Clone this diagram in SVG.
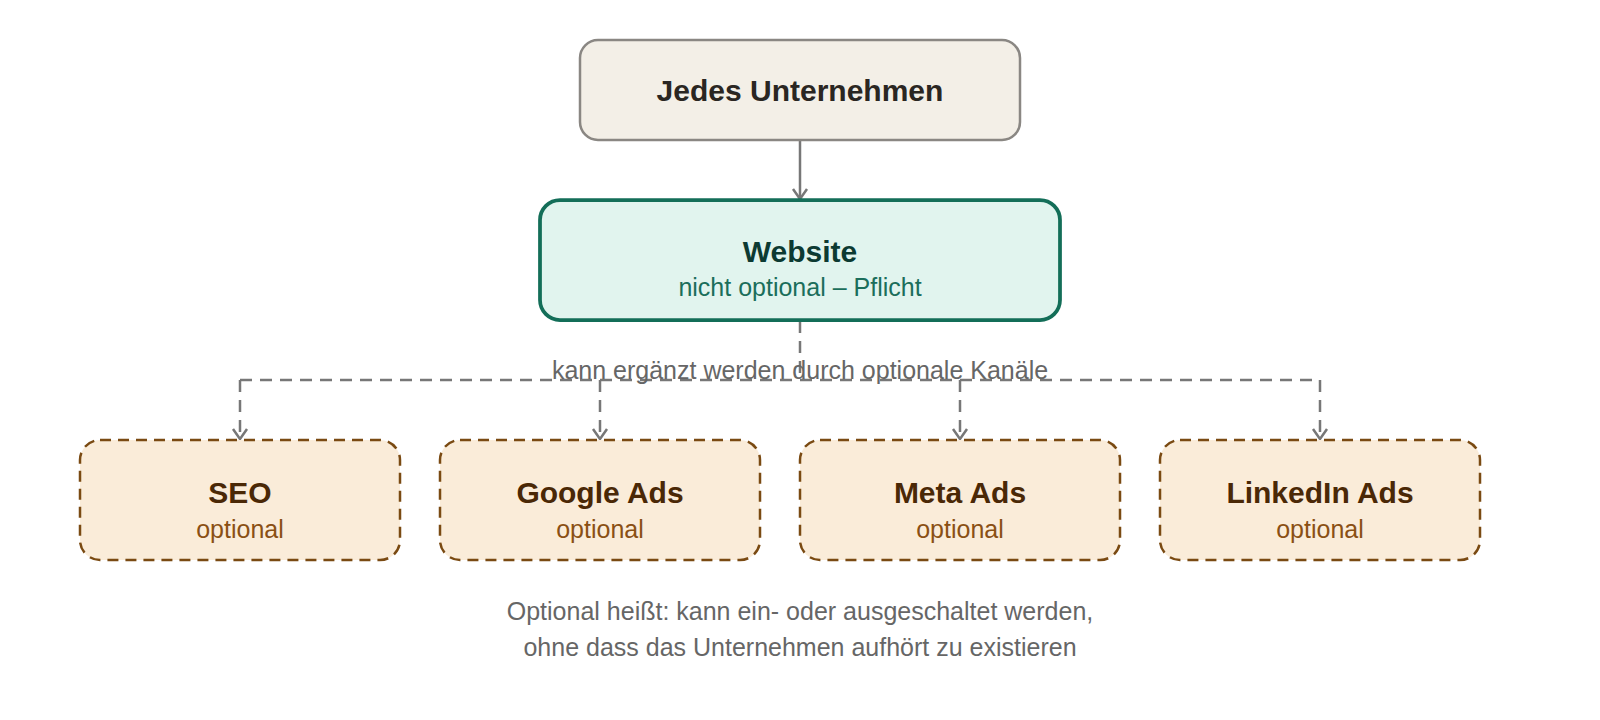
<svg xmlns="http://www.w3.org/2000/svg" width="1600" height="720" viewBox="0 0 1600 720">
<defs>
<marker id="arr" viewBox="-10 -12 20 14" refX="0" refY="0" markerWidth="20" markerHeight="14" markerUnits="userSpaceOnUse" orient="0">
<path d="M-7,-10 L0,0 L7,-10" fill="none" stroke="#777" stroke-width="2.5"/>
</marker>
<style>
text{font-family:"Liberation Sans",Arial,sans-serif;text-anchor:middle}
.opt rect{fill:#faecd9;stroke:#7a4a12;stroke-width:2.5;stroke-dasharray:11 7}
.opt .t{font-size:30px;font-weight:bold;fill:#4a2806}
.opt .s{font-size:25px;fill:#8a5014}
.conn{fill:none;stroke:#777;stroke-width:2.5}
.dash{stroke-dasharray:12 8}
.note{font-size:25px;fill:#666}
</style>
</defs>
<rect width="1600" height="720" fill="#fff"/>
<g id="connectors">
<path class="conn" d="M800,140 V199" marker-end="url(#arr)"/>
<path class="conn dash" d="M800,321 V380"/>
<path class="conn dash" d="M240,380 H1320"/>
<path class="conn dash" d="M240,380 V439" marker-end="url(#arr)"/>
<path class="conn dash" d="M600,380 V439" marker-end="url(#arr)"/>
<path class="conn dash" d="M960,380 V439" marker-end="url(#arr)"/>
<path class="conn dash" d="M1320,380 V439" marker-end="url(#arr)"/>
<text class="note" x="800" y="379">kann ergänzt werden durch optionale Kanäle</text>
</g>
<g id="node-unternehmen">
<rect x="580" y="40" width="440" height="100" rx="18" fill="#f3efe7" stroke="#8a8783" stroke-width="2.5"/>
<text x="800" y="101" font-size="30" font-weight="bold" fill="#2a2622">Jedes Unternehmen</text>
</g>
<g id="node-website">
<rect x="540" y="200" width="520" height="120" rx="20" fill="#e1f4ee" stroke="#136e58" stroke-width="3.75"/>
<text x="800" y="262" font-size="30" font-weight="bold" fill="#0c3a32">Website</text>
<text x="800" y="296" font-size="25" fill="#1b6e5b">nicht optional – Pflicht</text>
</g>
<g id="node-seo" class="opt">
<rect x="80" y="440" width="320" height="120" rx="20"/>
<text class="t" x="240" y="503">SEO</text>
<text class="s" x="240" y="538">optional</text>
</g>
<g id="node-google" class="opt">
<rect x="440" y="440" width="320" height="120" rx="20"/>
<text class="t" x="600" y="503">Google Ads</text>
<text class="s" x="600" y="538">optional</text>
</g>
<g id="node-meta" class="opt">
<rect x="800" y="440" width="320" height="120" rx="20"/>
<text class="t" x="960" y="503">Meta Ads</text>
<text class="s" x="960" y="538">optional</text>
</g>
<g id="node-linkedin" class="opt">
<rect x="1160" y="440" width="320" height="120" rx="20"/>
<text class="t" x="1320" y="503">LinkedIn Ads</text>
<text class="s" x="1320" y="538">optional</text>
</g>
<g id="footer">
<text class="note" x="800" y="620">Optional heißt: kann ein- oder ausgeschaltet werden,</text>
<text class="note" x="800" y="656">ohne dass das Unternehmen aufhört zu existieren</text>
</g>
</svg>
